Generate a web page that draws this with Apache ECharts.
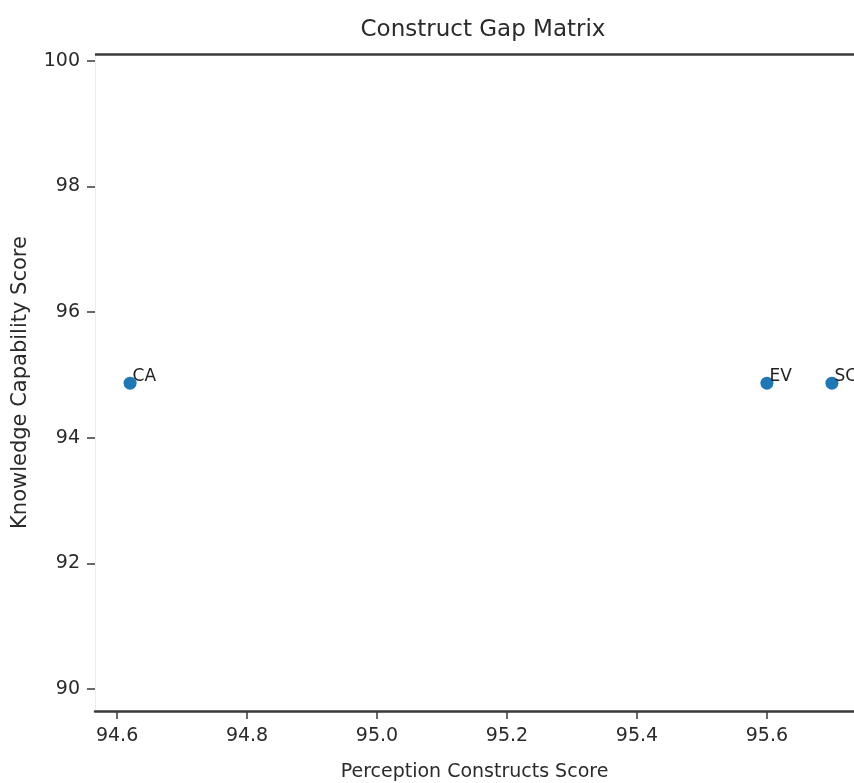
<!DOCTYPE html>
<html>
<head>
<meta charset="utf-8">
<script src="https://cdn.jsdelivr.net/npm/echarts@6/dist/echarts.min.js"></script>
<style>html,body{margin:0;padding:0;background:#fff}#c{width:854px;height:783px}</style>
</head>
<body>
<div id="c"></div>
<script>
const constructs = ['CA', 'EV', 'SC'];
const perceptionScores = [94.62, 95.6, 95.7];
const knowledgeScores = [94.87, 94.87, 94.87];
const xTicks = [94.6, 94.8, 95.0, 95.2, 95.4, 95.6];
const yTicks = [90, 92, 94, 96, 98, 100];

const FONT = 'DejaVu Sans';
const chart = echarts.init(document.getElementById('c'));
const xMin = 94.566, xMax = 95.734;
const yMin = 89.65, yMax = 100.11;
chart.setOption({
  animation: false,
  title: {
    text: 'Construct Gap Matrix',
    left: 478, textAlign: 'center', top: 14,
    textStyle: { fontFamily: FONT, fontSize: 23, fontWeight: 'normal', color: '#2a2a2a' }
  },
  grid: { left: 95, right: 0, top: 54, bottom: 72, outerBoundsMode: 'none', containLabel: false },
  xAxis: {
    type: 'value', min: xMin, max: xMax,
    name: 'Perception Constructs Score', nameLocation: 'middle', nameGap: 52,
    nameTextStyle: { fontFamily: FONT, fontSize: 19, color: '#2a2a2a' },
    axisLine: { show: true, onZero: false, lineStyle: { color: '#3a3a3a', width: 2.5 } },
    axisTick: { show: true, inside: false, customValues: xTicks, length: 8, lineStyle: { color: '#3a3a3a', width: 1.5 } },
    axisLabel: { customValues: xTicks, formatter: v => v.toFixed(1), fontFamily: FONT, fontSize: 19, color: '#2a2a2a', margin: 16 },
    splitLine: { show: false }
  },
  yAxis: {
    type: 'value', min: yMin, max: yMax,
    name: 'Knowledge Capability Score', nameLocation: 'middle', nameGap: 64,
    nameTextStyle: { fontFamily: FONT, fontSize: 21, color: '#2a2a2a' },
    axisLine: { show: true, onZero: false, lineStyle: { color: '#ececec', width: 1 } },
    axisTick: { show: true, customValues: yTicks, length: 8, lineStyle: { color: '#3a3a3a', width: 1.5 } },
    axisLabel: { customValues: yTicks, fontFamily: FONT, fontSize: 19, color: '#2a2a2a', margin: 15 },
    splitLine: { show: false }
  },
  series: [{
    type: 'scatter',
    symbolSize: 13,
    itemStyle: { color: '#1f77b4', opacity: 1 },
    data: constructs.map((n, i) => ({ name: n, value: [perceptionScores[i], knowledgeScores[i]] })),
    label: {
      show: true, formatter: p => p.name,
      position: [9, 8], align: 'left', verticalAlign: 'bottom',
      fontFamily: FONT, fontSize: 17, color: '#222'
    },
    markLine: {
      silent: true, symbol: 'none', label: { show: false },
      lineStyle: { color: '#3a3a3a', width: 2.5, type: 'solid' },
      data: [{ yAxis: yMax }]
    }
  }]
});
</script>
</body>
</html>
